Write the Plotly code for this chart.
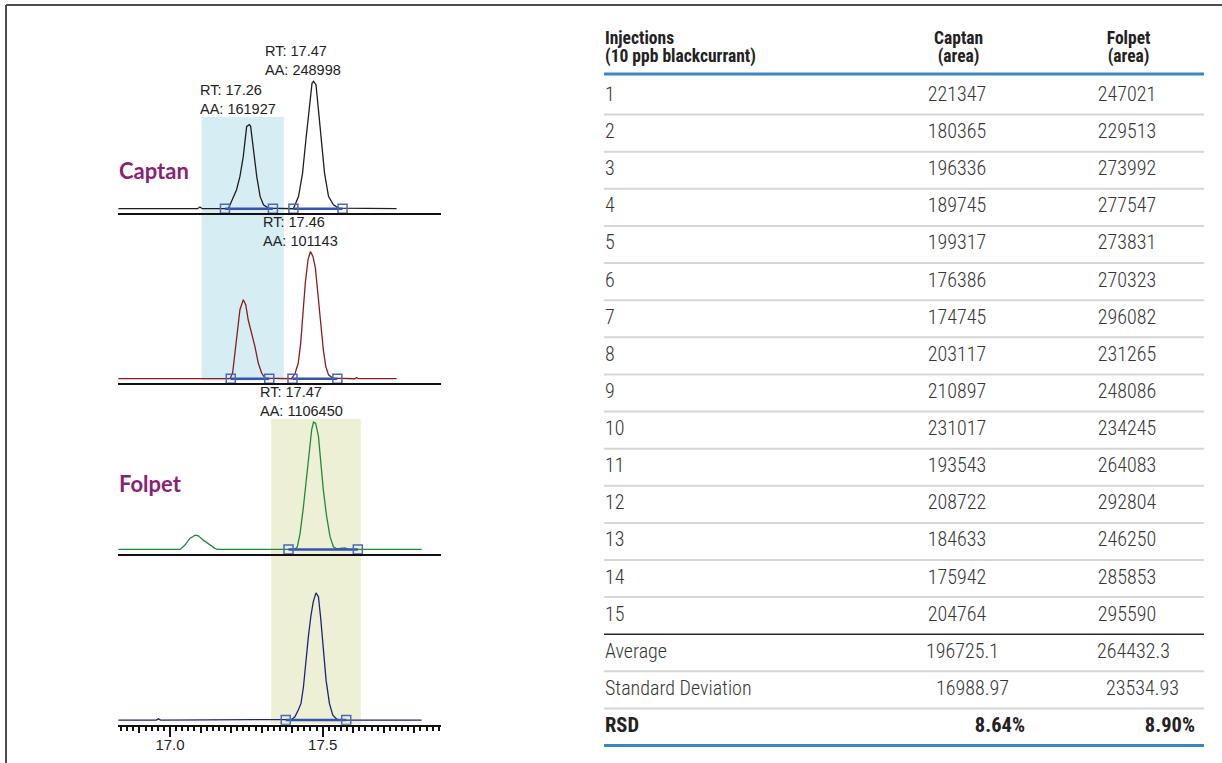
import plotly.graph_objects as go

W, H = 1222, 763

# ---------------------------------------------------------------------------
# Chromatograms: retention time (min) and response (% of tallest peak in trace)
# ---------------------------------------------------------------------------
captan_a_time = [16.831, 17.090, 17.098, 17.106, 17.191, 17.207, 17.218, 17.229, 17.240, 17.251,
                 17.260, 17.264, 17.273, 17.284, 17.295, 17.306, 17.322, 17.404, 17.421, 17.434,
                 17.445, 17.456, 17.465, 17.470, 17.478, 17.486, 17.495, 17.506, 17.519, 17.535,
                 17.552, 17.742]
captan_a_resp = [0, 0, 1.3, 0, 0, 8.4, 14.9, 25.4, 41.1, 64.7,
                 66.0, 64.7, 46.3, 25.4, 9.7, 3.1, 0.5, 0, 9.7, 28.0,
                 54.2, 80.4, 98.5, 100, 97.4, 77.8, 54.2, 28.0, 9.7, 3.1,
                 0.5, 0]

captan_b_time = [16.831, 17.1965, 17.205, 17.213, 17.220, 17.229, 17.240, 17.248, 17.256, 17.268,
                 17.278, 17.289, 17.300, 17.311, 17.398, 17.410, 17.420, 17.428, 17.436, 17.443,
                 17.452, 17.460, 17.468, 17.476, 17.484, 17.493, 17.502, 17.510, 17.519, 17.533,
                 17.605, 17.611, 17.617, 17.742]
captan_b_resp = [0, 0, 4.5, 20.2, 38.5, 54.2, 62.1, 58.1, 46.3, 35.9,
                 25.4, 12.3, 4.5, 0.5, 0, 4.5, 12.3, 28.0, 54.2, 75.2,
                 93.5, 100, 96.1, 87.0, 67.3, 43.7, 22.8, 9.7, 3.1, 0.5,
                 0, 1.0, 0, 0]

folpet_a_time = [16.831, 17.033, 17.049, 17.065, 17.082, 17.093, 17.109, 17.131, 17.147, 17.155,
                 17.409, 17.417, 17.426, 17.437, 17.448, 17.456, 17.464, 17.470, 17.477, 17.486,
                 17.493, 17.502, 17.513, 17.524, 17.535, 17.546, 17.557, 17.573, 17.584, 17.824]
folpet_a_resp = [0, 0, 3.4, 8.6, 11.2, 10.7, 7.3, 3.4, 0.8, 0,
                 0, 2.1, 12.6, 33.7, 57.3, 78.4, 94.2, 100, 99.0, 89.0,
                 67.9, 46.8, 25.7, 10.0, 2.1, 0.5, 0.8, 1.1, 0, 0]

folpet_b_time = [16.831, 16.955, 16.962, 16.969, 17.398, 17.409, 17.420, 17.429, 17.437, 17.445,
                 17.453, 17.461, 17.469, 17.478, 17.486, 17.493, 17.502, 17.511, 17.522, 17.533,
                 17.546, 17.557, 17.824]
folpet_b_resp = [0, 0, 1.0, 0, 0.5, 2.6, 7.9, 13.1, 26.2, 47.1,
                 65.4, 81.2, 92.9, 100, 96.9, 81.2, 57.6, 31.4, 13.1, 3.9,
                 0.8, 0, 0]

# Integration start/end points (min); None separates peaks
captan_a_marks = [17.180, 17.337, None, 17.404, 17.565]
captan_b_marks = [17.199, 17.325, None, 17.401, 17.548]
folpet_a_marks = [17.388, 17.615]
folpet_b_marks = [17.379, 17.577]

# Retention windows (min)
captan_window = [17.104, 17.373]
folpet_window = [17.331, 17.625]

# Peak labels: retention time, area, apex response, trace
peak_rt = [17.47, 17.26, 17.46, 17.47]
peak_area = [248998, 161927, 101143, 1106450]
peak_apex = [100, 66.0, 100, 100]
peak_trace = ["captan_a", "captan_a", "captan_b", "folpet_a"]

# ---------------------------------------------------------------------------
# Repeatability table
# ---------------------------------------------------------------------------
injections = ["1", "2", "3", "4", "5", "6", "7", "8", "9", "10", "11", "12", "13", "14", "15"]
captan_area = [221347, 180365, 196336, 189745, 199317, 176386, 174745, 203117,
               210897, 231017, 193543, 208722, 184633, 175942, 204764]
folpet_area = [247021, 229513, 273992, 277547, 273831, 270323, 296082, 231265,
               248086, 234245, 264083, 292804, 246250, 285853, 295590]
summary_labels = ["Average", "Standard Deviation", "RSD"]
captan_summary = ["196725.1", "16988.97", "8.64%"]
folpet_summary = ["264432.3", "23534.93", "8.90%"]

# ---------------------------------------------------------------------------
# Layout helpers
# ---------------------------------------------------------------------------
ARIAL = "Liberation Sans, Arial, Helvetica, sans-serif"
NARROW = "Roboto Condensed, Liberation Sans Narrow, Arial Narrow, DejaVu Sans Condensed, sans-serif"
PURPLE = "#8b1f73"
MARK_BLUE = "#3554b0"

PX_PER_MIN = 305.4
X_LEFT_PX, X_RIGHT_PX, X17_PX = 118.0, 441.0, 170.0
x_range = [17.0 - (X17_PX - X_LEFT_PX) / PX_PER_MIN, 17.0 + (X_RIGHT_PX - X17_PX) / PX_PER_MIN]
x_domain = [X_LEFT_PX / W, X_RIGHT_PX / W]

PANEL_PX = 170.0
RESP_PX = 1.273  # pixels per response unit
y_range = [-3.6, -3.6 + PANEL_PX / RESP_PX]


def ydom(bottom_px):
    return [1 - bottom_px / H, 1 - (bottom_px - PANEL_PX) / H]


# panel name -> (x axis, y axis, bottom line px, colour)
panels = {
    "captan_a": ("x4", "y4", 213.3, "#1e1e1e"),
    "captan_b": ("x3", "y3", 383.3, "#8a1c1c"),
    "folpet_a": ("x2", "y2", 554.0, "#1e8a3a"),
    "folpet_b": ("x", "y", 724.7, "#1c2378"),
}
series = {
    "captan_a": (captan_a_time, captan_a_resp, captan_a_marks),
    "captan_b": (captan_b_time, captan_b_resp, captan_b_marks),
    "folpet_a": (folpet_a_time, folpet_a_resp, folpet_a_marks),
    "folpet_b": (folpet_b_time, folpet_b_resp, folpet_b_marks),
}

fig = go.Figure()

for name, (t, r, marks) in series.items():
    xa, ya, _, col = panels[name]
    fig.add_trace(go.Scatter(x=t, y=r, mode="lines", xaxis=xa, yaxis=ya,
                             line=dict(color=col, width=1.3), hoverinfo="skip"))
for name, (t, r, marks) in series.items():
    xa, ya, _, col = panels[name]
    # bottom panel integration marks sit on the overlay axis so they draw on top
    mxa = "x5" if xa == "x" else xa
    fig.add_trace(go.Scatter(x=marks, y=[None if m is None else 0 for m in marks],
                             mode="lines+markers", xaxis=mxa, yaxis=ya,
                             line=dict(color=MARK_BLUE, width=2.5),
                             marker=dict(symbol="square-open", size=9, color="#4a68bd",
                                         line=dict(width=1.5, color="#4a68bd")),
                             connectgaps=False, hoverinfo="skip"))

# Axes for the chromatogram stack
axis_common = dict(range=x_range, domain=x_domain, showgrid=False, zeroline=False,
                   showline=True, linecolor="#111111", linewidth=2)
layout_axes = {}
for name, (xa, ya, bottom, col) in panels.items():
    xkey = "xaxis" if xa == "x" else "xaxis" + xa[1:]
    ykey = "yaxis" if ya == "y" else "yaxis" + ya[1:]
    if xa == "x":
        layout_axes[xkey] = dict(
            axis_common, anchor=ya, ticks="outside", ticklen=10, tickwidth=2,
            tickcolor="#111111", tick0=17.0, dtick=0.5, tickformat=".1f",
            ticklabelstandoff=-5,
            tickfont=dict(family=ARIAL, size=15, color="#222222"),
            minor=dict(ticks="outside", ticklen=4, tickwidth=1.5, tickcolor="#111111",
                       tick0=17.0, dtick=0.02, showgrid=False))
    else:
        layout_axes[xkey] = dict(axis_common, anchor=ya, ticks="", showticklabels=False)
    layout_axes[ykey] = dict(domain=ydom(bottom), range=y_range, anchor=xa, visible=False)

# medium ticks every 0.1 min on the bottom axis
layout_axes["xaxis5"] = dict(range=x_range, domain=x_domain, overlaying="x", anchor="y",
                             showgrid=False, zeroline=False, showline=False,
                             ticks="outside", ticklen=7, tickwidth=2, tickcolor="#111111",
                             tick0=17.0, dtick=0.1, showticklabels=False)

# ---------------------------------------------------------------------------
# Table drawn on a hidden axis pair: x in pixels, y in row index
# ---------------------------------------------------------------------------
ROW1_PX, ROW_PITCH = 96.0, 37.12
T_DOM0 = 0.45
layout_axes["xaxis6"] = dict(domain=[T_DOM0, 1], range=[T_DOM0 * W, W], anchor="y6", visible=False)
layout_axes["yaxis6"] = dict(domain=[0, 1],
                             range=[1 + (H - ROW1_PX) / ROW_PITCH, 1 - ROW1_PX / ROW_PITCH],
                             anchor="x6", visible=False)

LABEL_X, CAPTAN_X, FOLPET_X = 605, 957, 1127
rows = list(range(1, len(injections) + 1))
n = len(injections)
TXT = "#363636"


def text_trace(x, y, text, pos, size, color=TXT, weight=300):
    return go.Scatter(x=x, y=y, text=text, mode="text", textposition=pos,
                      xaxis="x6", yaxis="y6", cliponaxis=False, hoverinfo="skip",
                      textfont=dict(family=NARROW, size=size, color=color, weight=weight))


# header
fig.add_trace(text_trace([LABEL_X, LABEL_X], [-0.51, -0.03],
                         ["Injections", "(10 ppb blackcurrant)"], "middle right", 17.5,
                         "#222222", "bold"))
fig.add_trace(text_trace([958.6, 958.6, 1128.6, 1128.6], [-0.51, -0.03, -0.51, -0.03],
                         ["Captan", "(area)", "Folpet", "(area)"], "middle center", 17.5,
                         "#222222", "bold"))

# injection rows
fig.add_trace(text_trace([LABEL_X] * n, rows, injections, "middle right", 20))
fig.add_trace(text_trace([CAPTAN_X] * n, rows, [str(v) for v in captan_area], "middle center", 20))
fig.add_trace(text_trace([FOLPET_X] * n, rows, [str(v) for v in folpet_area], "middle center", 20))

# summary rows
srow = [n + 1, n + 2, n + 3]
fig.add_trace(text_trace([LABEL_X] * 2, srow[:2], summary_labels[:2], "middle right", 20))
fig.add_trace(text_trace([999, 1009], srow[:2], captan_summary[:2], "middle left", 20))
fig.add_trace(text_trace([1170, 1179], srow[:2], folpet_summary[:2], "middle left", 20))
fig.add_trace(text_trace([LABEL_X], [srow[2]], [summary_labels[2]], "middle right", 20.5,
                         "#222222", "bold"))
fig.add_trace(text_trace([1025, 1195], [srow[2]] * 2, [captan_summary[2], folpet_summary[2]],
                         "middle left", 20.5, "#222222", "bold"))

shapes = []
LINE_X0, LINE_X1 = 604, 1204
for k in rows[:-1] + [n + 1, n + 2]:
    shapes.append(dict(type="line", xref="x6", yref="y6", x0=LINE_X0, x1=LINE_X1,
                       y0=k + 0.5, y1=k + 0.5, line=dict(color="#d6d6d6", width=2)))
shapes.append(dict(type="line", xref="x6", yref="y6", x0=LINE_X0, x1=LINE_X1,
                   y0=n + 0.5, y1=n + 0.5, line=dict(color="#2a2a2a", width=1.5)))
for yk in [0.41, n + 3.5]:
    shapes.append(dict(type="line", xref="x6", yref="y6", x0=LINE_X0, x1=LINE_X1,
                       y0=yk, y1=yk, line=dict(color="#3a86c0", width=3)))

# retention windows
shapes.append(dict(type="rect", xref="x", yref="paper", layer="below",
                   x0=captan_window[0], x1=captan_window[1],
                   y0=1 - 380.5 / H, y1=1 - 117 / H,
                   fillcolor="#d7edf4", line=dict(width=0)))
shapes.append(dict(type="rect", xref="x", yref="paper", layer="below",
                   x0=folpet_window[0], x1=folpet_window[1],
                   y0=1 - 724 / H, y1=1 - 419 / H,
                   fillcolor="#eef0d6", line=dict(width=0)))

# frame
shapes.append(dict(type="line", xref="paper", yref="paper", x0=6 / W, x1=1,
                   y0=1 - 5 / H, y1=1 - 5 / H, line=dict(color="#4d4d4d", width=2)))
shapes.append(dict(type="line", xref="paper", yref="paper", x0=6 / W, x1=6 / W,
                   y0=0, y1=1 - 5 / H, line=dict(color="#4d4d4d", width=2)))

# peak labels and compound names
annotations = []
label_shift = {17.26: -51, 17.47: -51, 17.46: -49}
label_lift = [16.4, 20.0, 15.9, 16.0]
for rt, area, apex, tr, lift in zip(peak_rt, peak_area, peak_apex, peak_trace, label_lift):
    xa, ya, _, _ = panels[tr]
    shift = -56 if tr == "folpet_a" else label_shift[rt]
    annotations.append(dict(x=rt, y=apex + lift, xref=xa, yref=ya, xanchor="left",
                            yanchor="middle", xshift=shift, showarrow=False, align="left",
                            text=f"RT: {rt:.2f}<br>AA: {area}",
                            font=dict(family=ARIAL, size=14.5, color="#222222")))
for name, ypx in [("Captan", 170), ("Folpet", 483)]:
    annotations.append(dict(x=117 / W, y=1 - ypx / H, xref="paper", yref="paper",
                            xanchor="left", yanchor="middle", showarrow=False, text=name,
                            font=dict(family="Lato, Noto Sans, sans-serif", size=22,
                                      color=PURPLE, weight="bold")))

fig.update_layout(
    width=W, height=H, autosize=False,
    margin=dict(l=0, r=0, t=0, b=0, pad=0),
    paper_bgcolor="white", plot_bgcolor="rgba(0,0,0,0)",
    showlegend=False, shapes=shapes, annotations=annotations,
    **layout_axes,
)

fig.write_html("out.html")
